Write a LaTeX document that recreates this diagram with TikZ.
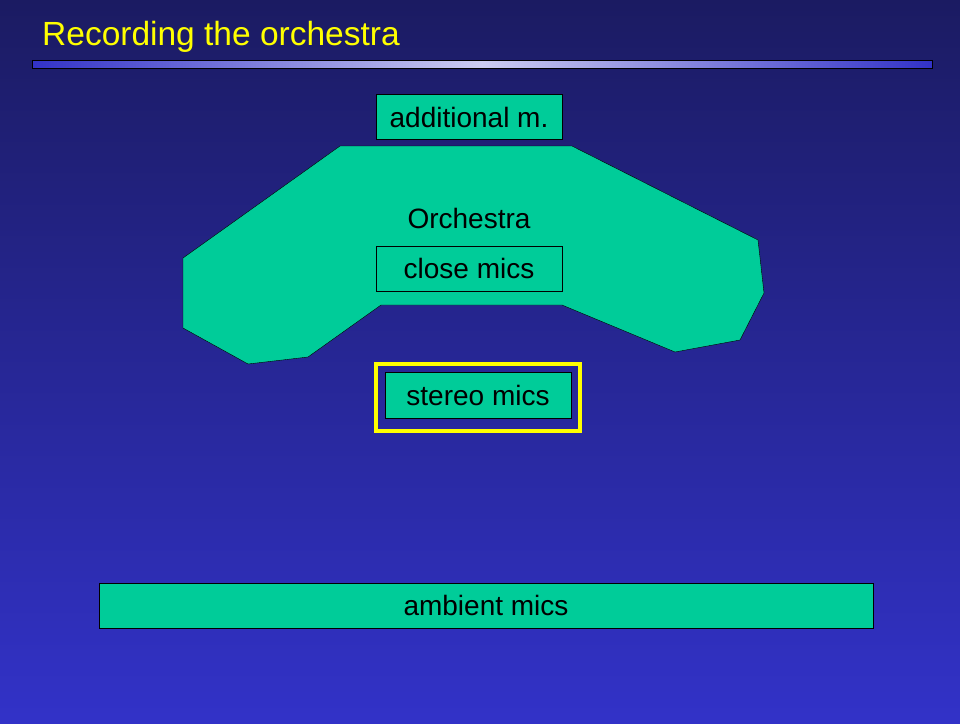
\documentclass[tikz,border=0pt]{standalone}
\usepackage{fontspec}
\setmainfont{Liberation Sans}
\definecolor{navytop}{RGB}{27,27,98}
\definecolor{navybot}{RGB}{50,50,200}
\definecolor{seagreen}{RGB}{0,204,153}
\definecolor{titleyel}{RGB}{255,255,0}
\tikzset{
    micbox/.style={draw=black,fill=seagreen,minimum height=45pt,font=\fontsize{28}{32}\selectfont,inner sep=0pt}
}
\begin{document}
\begin{tikzpicture}[x=1pt,y=-1pt]
    \useasboundingbox (0,0) rectangle (960,723);
    \shade[top color=navytop,bottom color=navybot] (0,0) rectangle (960,723);
    % title and bar
    \node[anchor=west,text=titleyel,font=\fontsize{33.5}{38}\selectfont,inner sep=0pt] (title) at (42,37) {Recording the orchestra};
    \shade[left color=navybot,right color=navybot,middle color=white!75!navybot,draw=black] (32,60) rectangle (932,68);
    % orchestra outline
    \draw[fill=seagreen,draw=black] (183,258) -- (340,146) -- (572,146) -- (758,240) -- (764,293)
        -- (740,340) -- (675,352) -- (562,305) -- (381,305) -- (308,357) -- (248,364) -- (183,328) -- cycle;
    \node[font=\fontsize{28}{32}\selectfont] (orch) at (469,218) {Orchestra};
    % microphones
    \node[micbox,minimum width=186pt] (addm) at (469,117) {additional m.};
    \node[micbox,minimum width=186pt] (close) at (469,268.5) {close mics};
    \draw[titleyel,line width=4pt] (376,364) rectangle (580,431);
    \node[micbox,minimum width=186pt,minimum height=46pt] (stereo) at (478,395) {stereo mics};
    \node[micbox,minimum width=774pt] (ambient) at (486,605.5) {ambient mics};
\end{tikzpicture}
\end{document}
